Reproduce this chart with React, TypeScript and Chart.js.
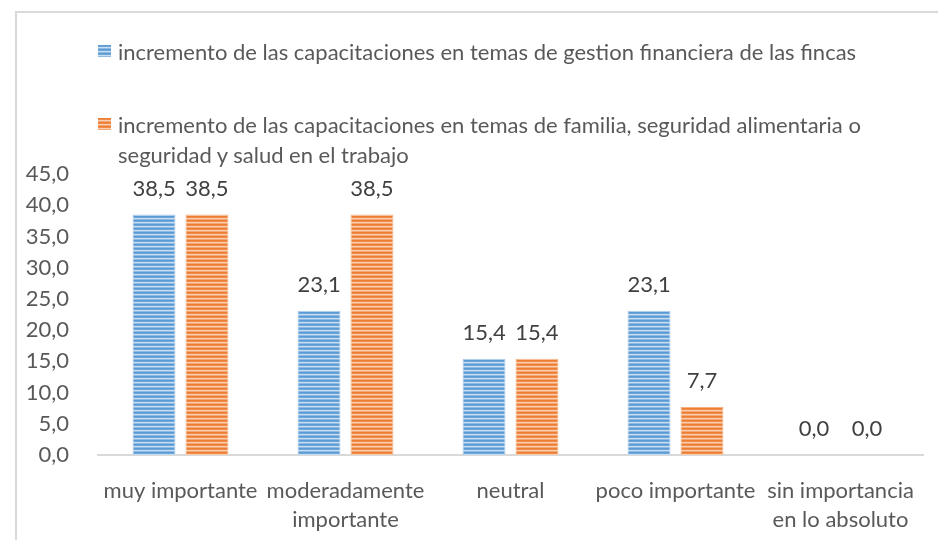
import React, { useEffect, useRef } from 'react';
import { Chart, registerables } from 'chart.js';

Chart.register(...registerables);

const categories: string[][] = [
  ['muy importante'],
  ['moderadamente', 'importante'],
  ['neutral'],
  ['poco importante'],
  ['sin importancia', 'en lo absoluto'],
];
const seriesGestionName = 'incremento de las capacitaciones en temas de gestion financiera de las fincas';
const seriesFamiliaLine1 = 'incremento de las capacitaciones en temas de familia, seguridad alimentaria o';
const seriesFamiliaLine2 = 'seguridad y salud en el trabajo';
const gestionValues = [38.5, 23.1, 15.4, 23.1, 0.0];
const familiaValues = [38.5, 38.5, 15.4, 7.7, 0.0];
const yMin = 0;
const yMax = 45;
const yStep = 5;

const FONT = 'Lato, "Open Sans", sans-serif';
const FS = 22;
const TEXT = '#595959';
const LABEL = '#404040';
const BLUE_STRIPES = ['#5b9bd5', '#6fa7da', '#c9ddf1', '#8ebae3'];
const ORANGE_STRIPES = ['#ed7d31', '#ef8c4a', '#f9cfb2', '#f3a673'];

const fmt = (v: number) => Number(v).toFixed(1).replace('.', ',');

function stripePattern(colors: string[]) {
  const c = document.createElement('canvas');
  c.width = 8;
  c.height = colors.length;
  const g = c.getContext('2d')!;
  colors.forEach((col, i) => {
    g.fillStyle = col;
    g.fillRect(0, i, 8, 1);
  });
  return g.createPattern(c, 'repeat')!;
}

const dataLabels = {
  id: 'dataLabels',
  afterDatasetsDraw(chart: any) {
    const ctx = chart.ctx;
    ctx.save();
    ctx.font = `${FS}px ${FONT}`;
    ctx.fillStyle = LABEL;
    ctx.textAlign = 'center';
    ctx.textBaseline = 'alphabetic';
    chart.data.datasets.forEach((ds: any, i: number) => {
      const meta = chart.getDatasetMeta(i);
      meta.data.forEach((el: any, j: number) => {
        ctx.fillText(fmt(ds.data[j]), el.x, el.y - 19);
      });
    });
    ctx.restore();
  },
};

function swatch(colors: string[]) {
  return `repeating-linear-gradient(to bottom, ${colors[0]} 0px, ${colors[0]} 1px, ${colors[1]} 1px, ${colors[1]} 2px, ${colors[2]} 2px, ${colors[2]} 3px, ${colors[3]} 3px, ${colors[3]} 4px)`;
}

export default function App() {
  const ref = useRef<HTMLCanvasElement>(null);
  useEffect(() => {
    const chart = new Chart(ref.current!, {
      type: 'bar',
      data: {
        labels: categories,
        datasets: [
          {
            label: seriesGestionName,
            data: gestionValues,
            backgroundColor: stripePattern(BLUE_STRIPES),
            borderColor: '#a6c8ea',
            borderWidth: 1,
            categoryPercentage: 0.642,
            barPercentage: 0.81,
          },
          {
            label: seriesFamiliaLine1 + ' ' + seriesFamiliaLine2,
            data: familiaValues,
            backgroundColor: stripePattern(ORANGE_STRIPES),
            borderColor: '#f4b183',
            borderWidth: 1,
            categoryPercentage: 0.642,
            barPercentage: 0.81,
          },
        ],
      },
      options: {
        animation: false,
        responsive: true,
        maintainAspectRatio: false,
        layout: { padding: { left: 0, right: 15, top: 174, bottom: 0 } },
        plugins: {
          legend: { display: false },
          tooltip: { enabled: false },
        },
        scales: {
          x: {
            grid: { display: false },
            border: { display: true, color: '#d9d9d9', width: 2 },
            ticks: {
              color: TEXT,
              font: { family: FONT, size: FS, lineHeight: 1.32 },
              padding: 13,
              maxRotation: 0,
              autoSkip: false,
            },
            afterFit: (s: any) => {
              s.height = 85;
            },
          },
          y: {
            min: yMin,
            max: yMax,
            grid: { display: false },
            border: { display: false },
            ticks: {
              stepSize: yStep,
              color: TEXT,
              font: { family: FONT, size: FS },
              padding: 21,
              callback: (v: any) => fmt(v),
            },
            afterFit: (s: any) => {
              s.width = 98;
            },
          },
        },
      },
      plugins: [dataLabels],
    });
    return () => chart.destroy();
  }, []);

  const legendText: React.CSSProperties = {
    position: 'absolute',
    left: 118,
    fontFamily: FONT,
    fontSize: FS,
    lineHeight: '30px',
    color: TEXT,
    whiteSpace: 'nowrap',
  };

  return (
    <div style={{ position: 'fixed', left: 0, top: 0, width: 938, height: 540, background: '#fff', overflow: 'hidden' }}>
      <div
        style={{
          position: 'absolute',
          left: 15,
          top: 11,
          width: 1000,
          height: 1000,
          borderLeft: '2px solid #d9d9d9',
          borderTop: '2px solid #d9d9d9',
        }}
      />
      <div style={{ position: 'absolute', left: 0, top: 0, width: 938, height: 540 }}>
        <canvas ref={ref} />
      </div>
      <div style={{ position: 'absolute', left: 98, top: 45, width: 13, height: 12, background: swatch(BLUE_STRIPES) }} />
      <div style={{ ...legendText, top: 37 }}>{seriesGestionName}</div>
      <div style={{ position: 'absolute', left: 98, top: 118, width: 13, height: 12, background: swatch(ORANGE_STRIPES) }} />
      <div style={{ ...legendText, top: 110 }}>
        {seriesFamiliaLine1}
        <br />
        {seriesFamiliaLine2}
      </div>
    </div>
  );
}
